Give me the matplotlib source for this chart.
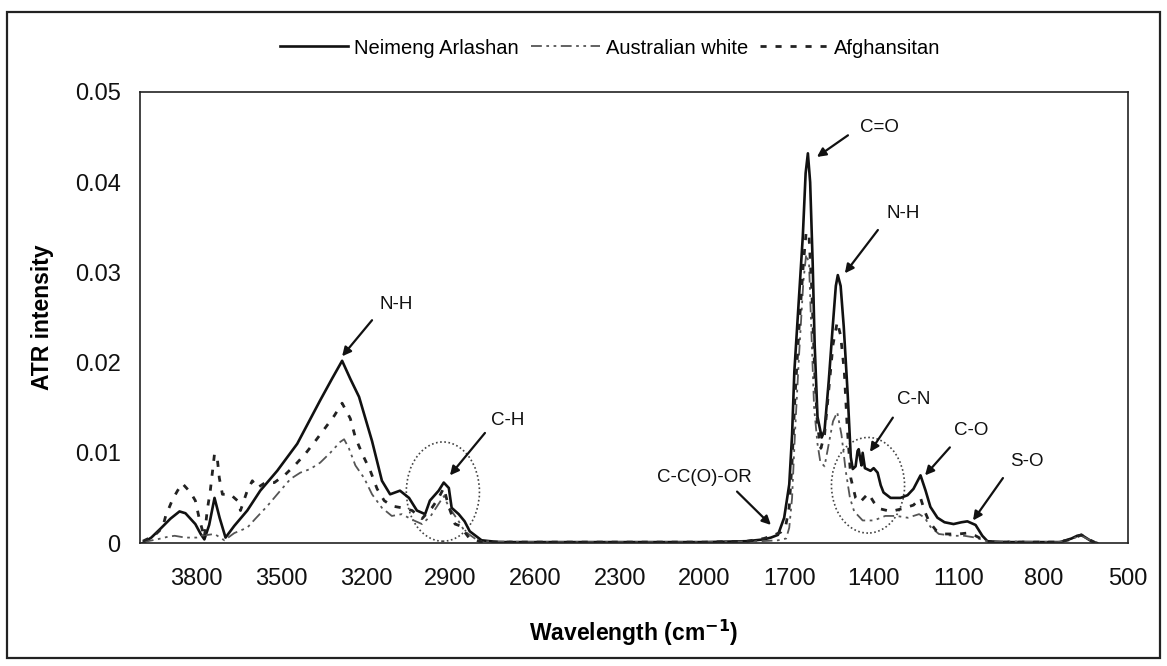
import matplotlib
matplotlib.use("Agg")
import matplotlib.pyplot as plt
from matplotlib.patches import Ellipse, Rectangle
from matplotlib.lines import Line2D

plt.rcParams['font.family'] = ['Liberation Sans', 'DejaVu Sans']

# ---------------- data ----------------
series_names = ["Neimeng Arlashan", "Australian white", "Afghansitan"]

neimeng_x = [3990, 3960, 3927, 3892, 3860, 3839, 3804, 3785, 3772, 3755, 3736, 3718, 3697, 3666,
             3620, 3574, 3514, 3443, 3362, 3320, 3284, 3255, 3224, 3178, 3143, 3114, 3079, 3047,
             3019, 2990, 2973, 2942, 2924, 2906, 2896, 2871, 2850, 2832, 2790, 2730, 2600, 2400,
             2200, 2000, 1850, 1790, 1765, 1740, 1718, 1700, 1690, 1682, 1670, 1652, 1642, 1634,
             1626, 1617, 1610, 1600, 1585, 1575, 1560, 1546, 1535, 1528, 1518, 1507, 1493, 1482,
             1475, 1465, 1458, 1454, 1448, 1444, 1440, 1432, 1412, 1401, 1387, 1376, 1366, 1341,
             1306, 1281, 1260, 1235, 1217, 1200, 1175, 1150, 1118, 1090, 1069, 1040, 1016, 998,
             950, 800, 740, 700, 680, 665, 650, 630, 610]
neimeng_y = [0.0, 0.0006, 0.0016, 0.0027, 0.0035, 0.0033, 0.0021, 0.0010, 0.0004, 0.0020, 0.0050,
             0.0028, 0.0006, 0.0019, 0.0036, 0.0058, 0.0080, 0.0110, 0.0158, 0.0182, 0.0202, 0.0182,
             0.0162, 0.0113, 0.0069, 0.0054, 0.0058, 0.0050, 0.0036, 0.0032, 0.0047, 0.0058, 0.0067,
             0.0061, 0.0039, 0.0032, 0.0024, 0.0013, 0.0003, 0.0001, 0.0001, 0.0001, 0.0001, 0.0001,
             0.0002, 0.0004, 0.0006, 0.0009, 0.0028, 0.0065, 0.0120, 0.0190, 0.0250, 0.0340, 0.0410,
             0.0432, 0.0400, 0.0310, 0.0220, 0.0140, 0.0117, 0.0125, 0.0180, 0.0240, 0.0285, 0.0297,
             0.0285, 0.0240, 0.0165, 0.0095, 0.0082, 0.0085, 0.0102, 0.0104, 0.0092, 0.0086, 0.0100,
             0.0083, 0.0080, 0.0083, 0.0078, 0.0064, 0.0056, 0.0050, 0.0050, 0.0053, 0.0060, 0.0075,
             0.0058, 0.0040, 0.0028, 0.0023, 0.0021, 0.0023, 0.0024, 0.0020, 0.0008, 0.0002, 0.0001,
             0.0001, 0.0001, 0.0005, 0.0008, 0.0009, 0.0006, 0.0002, 0.0]

australian_x = [3990, 3940, 3900, 3877, 3840, 3800, 3787, 3760, 3736, 3701, 3666, 3620, 3591, 3549,
                3503, 3467, 3432, 3397, 3362, 3326, 3291, 3277, 3260, 3237, 3206, 3178, 3143, 3108,
                3072, 3037, 3001, 2970, 2945, 2924, 2906, 2871, 2850, 2800, 2600, 2300, 2000, 1800,
                1740, 1711, 1700, 1690, 1680, 1665, 1650, 1640, 1630, 1620, 1612, 1600, 1590, 1575,
                1560, 1545, 1530, 1515, 1500, 1485, 1470, 1440, 1400, 1360, 1320, 1280, 1240, 1220,
                1200, 1170, 1120, 1080, 1040, 1000, 750, 700, 680, 665, 640, 610]
australian_y = [0.0001, 0.0004, 0.0007, 0.0008, 0.0006, 0.0006, 0.0008, 0.0009, 0.0010, 0.0003,
                0.0011, 0.0017, 0.0027, 0.0041, 0.0058, 0.0071, 0.0078, 0.0082, 0.0089, 0.0100,
                0.0112, 0.0115, 0.0105, 0.0086, 0.0072, 0.0054, 0.0039, 0.0030, 0.0032, 0.0026,
                0.0021, 0.0030, 0.0042, 0.0052, 0.0040, 0.0024, 0.0013, 0.0002, 0.0001, 0.0001,
                0.0001, 0.0002, 0.0003, 0.0005, 0.0017, 0.0050, 0.0120, 0.0210, 0.0290, 0.0320,
                0.0310, 0.0220, 0.0150, 0.0110, 0.0090, 0.0085, 0.0110, 0.0135, 0.0145, 0.0120,
                0.0080, 0.0050, 0.0035, 0.0025, 0.0025, 0.0030, 0.0030, 0.0028, 0.0032, 0.0028,
                0.0018, 0.0010, 0.0008, 0.0008, 0.0006, 0.0002, 0.0001, 0.0004, 0.0007, 0.0008,
                0.0004, 0.0]

afghan_x = [3990, 3950, 3920, 3909, 3885, 3867, 3850, 3821, 3804, 3790, 3772, 3762, 3751, 3736,
            3726, 3719, 3708, 3680, 3655, 3644, 3620, 3602, 3585, 3556, 3524, 3485, 3449, 3414,
            3379, 3343, 3312, 3284, 3255, 3237, 3213, 3184, 3160, 3135, 3107, 3072, 3036, 3001,
            2966, 2942, 2924, 2906, 2884, 2866, 2835, 2790, 2600, 2300, 2000, 1850, 1790, 1760,
            1730, 1712, 1700, 1690, 1680, 1665, 1650, 1640, 1630, 1620, 1610, 1600, 1588, 1575,
            1560, 1545, 1530, 1518, 1505, 1495, 1482, 1465, 1450, 1420, 1400, 1380, 1340, 1300,
            1260, 1235, 1220, 1205, 1180, 1150, 1100, 1070, 1040, 1010, 990, 750, 700, 680, 665,
            650, 620]
afghan_y = [0.0002, 0.0008, 0.0017, 0.0030, 0.0048, 0.0058, 0.0066, 0.0056, 0.0047, 0.0027, 0.0006,
            0.0036, 0.0058, 0.0099, 0.0093, 0.0072, 0.0054, 0.0054, 0.0047, 0.0036, 0.0058, 0.0069,
            0.0061, 0.0067, 0.0067, 0.0076, 0.0087, 0.0099, 0.0113, 0.0128, 0.0141, 0.0155, 0.0138,
            0.0117, 0.0099, 0.0080, 0.0060, 0.0047, 0.0041, 0.0039, 0.0036, 0.0027, 0.0039, 0.0050,
            0.0061, 0.0040, 0.0021, 0.0019, 0.0006, 0.0001, 0.0001, 0.0001, 0.0001, 0.0002, 0.0005,
            0.0008, 0.0012, 0.0020, 0.0040, 0.0090, 0.0160, 0.0240, 0.0310, 0.0345, 0.0340, 0.0280,
            0.0190, 0.0130, 0.0105, 0.0120, 0.0170, 0.0220, 0.0245, 0.0230, 0.0190, 0.0130, 0.0072,
            0.0050, 0.0045, 0.0055, 0.0045, 0.0038, 0.0035, 0.0038, 0.0042, 0.0050, 0.0035, 0.0024,
            0.0014, 0.0010, 0.0010, 0.0011, 0.0008, 0.0003, 0.0001, 0.0001, 0.0004, 0.0007, 0.0009,
            0.0006, 0.0001]

x_ticks = [3800, 3500, 3200, 2900, 2600, 2300, 2000, 1700, 1400, 1100, 800, 500]
y_ticks = [0, 0.01, 0.02, 0.03, 0.04, 0.05]
y_tick_labels = ["0", "0.01", "0.02", "0.03", "0.04", "0.05"]

# annotations: label, text centre, arrow tail, arrow head (data coords)
annotations = [
    ("N-H", (3093, 0.0264), (3178, 0.0247), (3284, 0.0207)),
    ("C-H", (2696, 0.0136), (2778, 0.0122), (2902, 0.0075)),
    ("C-C(O)-OR", (1999, 0.0073), (1885, 0.0057), (1765, 0.0020)),
    ("C=O", (1379, 0.0461), (1492, 0.0452), (1602, 0.0428)),
    ("N-H", (1297, 0.0365), (1386, 0.0347), (1503, 0.0299)),
    ("C-N", (1258, 0.0159), (1333, 0.0139), (1414, 0.0101)),
    ("C-O", (1056, 0.0125), (1131, 0.0106), (1219, 0.0075)),
    ("S-O", (858, 0.0090), (943, 0.0072), (1049, 0.0025)),
]
# dotted ellipses: centre, width (cm-1), height
ellipses = [((2927, 0.0057), 259, 0.0110), ((1421, 0.0064), 259, 0.0106)]

# ---------------- figure ----------------
W, H = 1167, 666
fig = plt.figure(figsize=(W / 100, H / 100), dpi=100)
fig.patches.append(Rectangle((7 / W, 1 - 658 / H), 1153 / W, 646 / H, transform=fig.transFigure,
                             fill=False, edgecolor='#222222', linewidth=1.6))

ax = fig.add_axes([140 / W, 1 - 543 / H, (1128 - 140) / W, (543 - 92) / H])

ax.plot(neimeng_x, neimeng_y, color='#111111', linewidth=1.9, linestyle='-', label=series_names[0])
ax.plot(australian_x, australian_y, color='#555555', linewidth=1.3,
        dashes=(6, 2.5, 1.5, 2.5, 1.5, 2.5), label=series_names[1])
ax.plot(afghan_x, afghan_y, color='#222222', linewidth=2.0, dashes=(2.2, 3.2), label=series_names[2])

ax.set_xlim(4000, 500)
ax.set_ylim(0, 0.05)
ax.set_xticks(x_ticks)
ax.set_xticklabels([str(t) for t in x_ticks])
ax.set_yticks(y_ticks)
ax.set_yticklabels(y_tick_labels)
ax.tick_params(axis='both', length=0, labelsize=17, colors='#111111')
ax.tick_params(axis='y', pad=14)
ax.tick_params(axis='x', pad=18)
for s in ax.spines.values():
    s.set_linewidth(1.2)
    s.set_color('#222222')

ax.set_xlabel("Wavelength (cm$^{\\mathbf{-1}}$)", fontsize=16.5, fontweight='bold', labelpad=20)
ax.set_ylabel("ATR intensity", fontsize=16.5, fontweight='bold', labelpad=15)

for label, txy, tail, head in annotations:
    ax.text(txy[0], txy[1], label, fontsize=13.5, ha='center', va='center', color='#111111')
    ax.annotate("", xy=head, xytext=tail,
                arrowprops=dict(arrowstyle='-|>', color='#111111', lw=1.6,
                                mutation_scale=13, shrinkA=0, shrinkB=0))

for (c, w, h) in ellipses:
    ax.add_patch(Ellipse(c, w, h, fill=False, edgecolor='#444444', linewidth=1.2,
                         linestyle=(0, (1, 1.5))))

handles = [
    Line2D([], [], color='#111111', linewidth=1.9, linestyle='-'),
    Line2D([], [], color='#555555', linewidth=1.3, dashes=(6, 2.5, 1.5, 2.5, 1.5, 2.5)),
    Line2D([], [], color='#222222', linewidth=2.0, dashes=(2.2, 3.2)),
]
fig.legend(handles, series_names, loc='center', bbox_to_anchor=(0.523, 1 - 48 / H), ncol=3,
           frameon=False, fontsize=14.5, handlelength=3.4, handletextpad=0.3, columnspacing=0.6)

fig.savefig("out.png", dpi=100)
